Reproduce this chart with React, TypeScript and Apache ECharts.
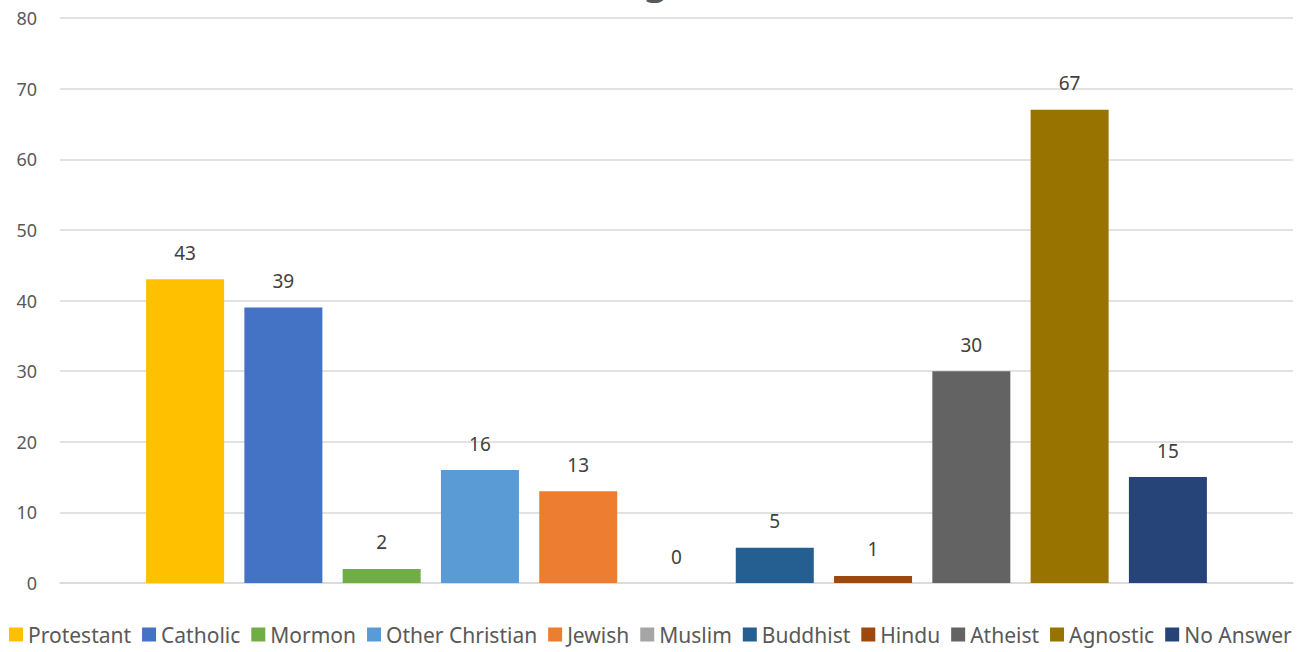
import React, { useEffect, useRef } from "react";
import * as echarts from "echarts";

const seriesNames = ["Protestant", "Catholic", "Mormon", "Other Christian", "Jewish", "Muslim", "Buddhist", "Hindu", "Atheist", "Agnostic", "No Answer"];
const seriesValues = [43, 39, 2, 16, 13, 0, 5, 1, 30, 67, 15];
const seriesColors = ["#FFC000", "#4472C4", "#70AD47", "#5B9BD5", "#ED7D31", "#A5A5A5", "#255E91", "#9E480E", "#636363", "#997300", "#264478"];
const categories = ["Religion"];
const chartTitle = "Religion";

const FONT = "'Noto Sans', sans-serif";

export default function App() {
  const ref = useRef<HTMLDivElement>(null);
  useEffect(() => {
    if (!ref.current) return;
    const chart = echarts.init(ref.current, undefined, { renderer: "svg" });
    chart.setOption({
      animation: false,
      textStyle: { fontFamily: FONT },
      grid: { left: 60, right: 21, top: 18, bottom: 69, containLabel: false },
      graphic: [
        {
          type: "text",
          x: 651,
          y: -25,
          style: {
            text: chartTitle,
            fontSize: 44,
            fontFamily: FONT,
            fill: "#595959",
            textAlign: "center",
            textVerticalAlign: "middle",
          },
        },
      ],
      legend: {
        bottom: 2,
        left: 4,
        itemWidth: 14,
        itemHeight: 14,
        itemGap: 11,
        icon: "rect",
        textStyle: { fontSize: 21, color: "#595959", fontFamily: FONT },
        data: seriesNames,
      },
      xAxis: {
        type: "category",
        data: categories,
        axisLine: { lineStyle: { color: "#D9D9D9", width: 1.5 } },
        axisTick: { show: false },
        axisLabel: { show: false },
      },
      yAxis: {
        type: "value",
        min: 0,
        max: 80,
        interval: 10,
        axisLine: { show: false },
        axisTick: { show: false },
        axisLabel: { fontSize: 18, color: "#595959", margin: 23, fontFamily: FONT },
        splitLine: { lineStyle: { color: "#D9D9D9", width: 1.5 } },
      },
      series: seriesNames.map((name, i) => ({
        name,
        type: "bar",
        data: [seriesValues[i]],
        barWidth: 78,
        barGap: "26%",
        itemStyle: { color: seriesColors[i] },
        label: {
          show: true,
          position: "top",
          distance: 17,
          fontSize: 19,
          color: "#404040",
          fontFamily: FONT,
        },
      })),
    });
    return () => chart.dispose();
  }, []);
  return (
    <div
      ref={ref}
      style={{ position: "fixed", left: 0, top: 0, width: 1314, height: 652, background: "#fff" }}
    />
  );
}
